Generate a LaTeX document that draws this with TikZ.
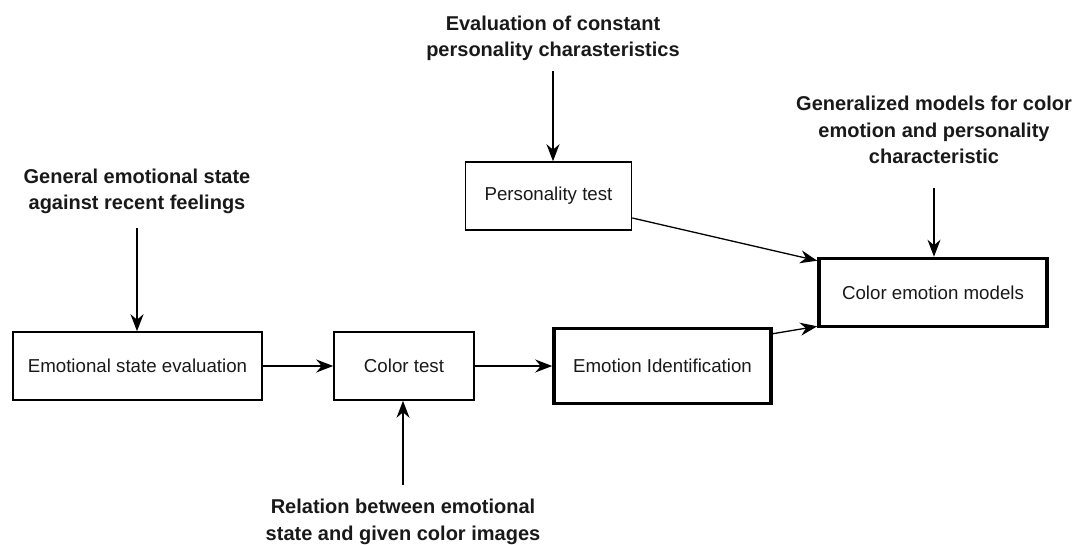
\documentclass[tikz,border=0pt]{standalone}
\usepackage{fontspec}
\setmainfont{Liberation Sans}
\usetikzlibrary{arrows.meta}
\tikzset{box/.style={draw,line width=1.6pt,align=center,minimum height=68pt,inner sep=3pt,
    font=\fontsize{18.7}{22}\selectfont,text=black!90},
  heavy/.style={box,line width=3.6pt},
  arr/.style={-{Stealth[length=17pt,width=13pt]},line width=1.3pt}}

\begin{document}
\begin{tikzpicture}[x=1pt,y=-1pt,
 lbl/.style={align=center,inner sep=2pt,font=\fontsize{20}{26.5}\selectfont\bfseries,text=black!90},
 arrw/.style={arr,line width=1.8pt}]
\useasboundingbox (0,0) rectangle (1073,544);
\node[box,minimum width=249pt] (ese) at (137.5,366) {Emotional state evaluation};
\node[box,minimum width=140pt] (ct) at (404,366) {Color test};
\node[heavy,minimum width=217pt,minimum height=75pt] (ei) at (662.5,366) {Emotion Identification};
\node[box,minimum width=166pt] (pt) at (548.5,196) {Personality test};
\node[heavy,minimum width=228pt,minimum height=68pt] (cem) at (933,292.5) {Color emotion models};
\node[lbl] (lgen) at (137,191.5) {General emotional state\\against recent feelings};
\node[lbl] (leval) at (553,38.5) {Evaluation of constant\\personality charasteristics};
\node[lbl] (lgenz) at (934,130) {Generalized models for color\\emotion and personality\\characteristic};
\node[lbl] (lrel) at (403,522) {Relation between emotional\\state and given color images};
\draw[arrw,shorten <=12pt] (lgen.south) -- (lgen.south |- ese.north);
\draw[arr,shorten <=8pt] (leval.south) -- (leval.south |- pt.north);
\draw[arr,shorten <=22pt] (lgenz.south) -- (lgenz.south |- cem.north);
\draw[arr,shorten <=12pt] (lrel.north) -- (lrel.north |- ct.south);
\draw[arrw] (ese) -- (ct);
\draw[arr] (ct) -- (ei);
\draw[arr] ([yshift=-22pt]pt.east) -- ([yshift=-4pt]cem.north west);
\draw[arr] ([yshift=-7pt]ei.north east) -- ([yshift=2pt]cem.south west);
\end{tikzpicture}
\end{document}
